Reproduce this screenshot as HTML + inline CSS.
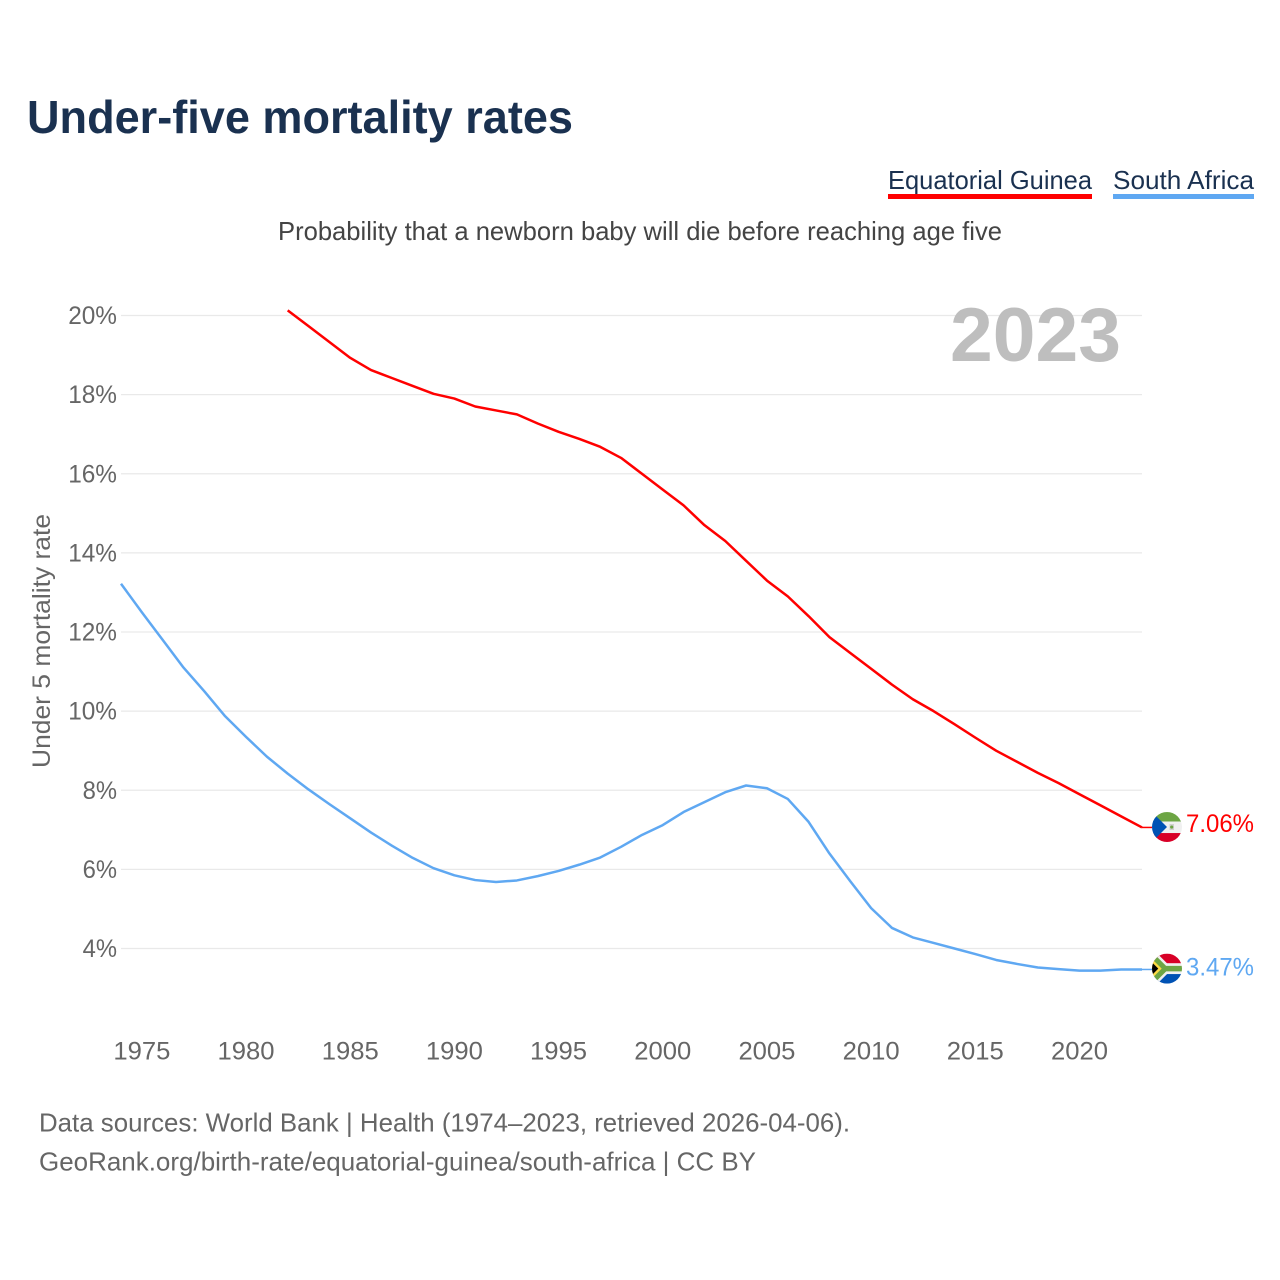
<!DOCTYPE html>
<html lang="en">
<head>
<meta charset="utf-8">
<title>Under-five mortality rates</title>
<style>
html,body{margin:0;padding:0;background:#fff;}
svg{display:block;}
text{font-family:"Liberation Sans",sans-serif;}
</style>
</head>
<body>
<svg id="chart" xmlns="http://www.w3.org/2000/svg" width="1280" height="1280" viewBox="0 0 1280 1280">
  <defs>
    <clipPath id="flag-clip"><circle cx="0" cy="0" r="15"/></clipPath>
  </defs>
  <rect x="0" y="0" width="1280" height="1280" fill="#fff"/>
  <text x="27" y="133" font-size="46" font-weight="700" fill="#1a3150" textLength="546" lengthAdjust="spacingAndGlyphs">Under-five mortality rates</text>

  <g>
    <g>
      <text x="888" y="189" font-size="26" fill="#1a3150" textLength="204" lengthAdjust="spacingAndGlyphs">Equatorial Guinea</text>
      <rect x="888" y="194" width="204" height="5" fill="#ff0000"/>
    </g>
    <g>
      <text x="1113" y="189" font-size="26" fill="#1a3150" textLength="141" lengthAdjust="spacingAndGlyphs">South Africa</text>
      <rect x="1113" y="194" width="141" height="5" fill="#5fa8f2"/>
    </g>
  </g>

  <text x="278" y="240" font-size="26" fill="#444" textLength="724" lengthAdjust="spacingAndGlyphs">Probability that a newborn baby will die before reaching age five</text>

  <g id="grid"></g>
  <g id="y-ticks"></g>
  <g id="x-ticks"></g>

  <text x="950" y="361" font-size="76" font-weight="700" fill="#bebebe" textLength="171" lengthAdjust="spacingAndGlyphs">2023</text>

  <text transform="translate(50,641) rotate(-90)" text-anchor="middle" font-size="25" fill="#666" textLength="254" lengthAdjust="spacingAndGlyphs">Under 5 mortality rate</text>

  <g id="series"></g>

  <g id="flag-eg">
    <g clip-path="url(#flag-clip)">
      <rect x="-15" y="-15" width="30" height="9.5" fill="#6da544"/>
      <rect x="-15" y="-5.5" width="30" height="11.5" fill="#f0f0f0"/>
      <rect x="-15" y="6" width="30" height="9" fill="#d80027"/>
      <polygon points="-15,-15 0,0 -15,15" fill="#0052b4"/>
      <rect x="2.5" y="-3" width="4.5" height="6" fill="#d0d0d0"/>
      <circle cx="4.7" cy="0" r="1.6" fill="#6da544"/>
    </g>
  </g>

  <g id="flag-za">
    <g clip-path="url(#flag-clip)">
      <rect x="-15" y="-15" width="30" height="30" fill="#f0f0f0"/>
      <rect x="-15" y="-15" width="30" height="9.6" fill="#d80027"/>
      <rect x="-15" y="5.4" width="30" height="9.6" fill="#0052b4"/>
      <path d="M-17,-15 L-2,0 L15,0 M-17,15 L-2,0" fill="none" stroke="#f0f0f0" stroke-width="10.5"/>
      <path d="M-17,-15 L-2,0 L15,0 M-17,15 L-2,0" fill="none" stroke="#6da544" stroke-width="5.5"/>
      <polygon points="-15,-9.7 -5.3,0 -15,9.7" fill="#ffda44"/>
      <polygon points="-15,-6.3 -8.7,0 -15,6.3" fill="#000"/>
    </g>
  </g>

  <g id="end-labels"></g>

  <text x="39" y="1131.5" font-size="26" fill="#666" textLength="811" lengthAdjust="spacingAndGlyphs">Data sources: World Bank | Health (1974–2023, retrieved 2026-04-06).</text>
  <text x="39" y="1170.5" font-size="26" fill="#666" textLength="717" lengthAdjust="spacingAndGlyphs">GeoRank.org/birth-rate/equatorial-guinea/south-africa | CC BY</text>
</svg>

<script>
var years = [1974,1975,1976,1977,1978,1979,1980,1981,1982,1983,1984,1985,1986,1987,1988,1989,1990,1991,1992,1993,1994,1995,1996,1997,1998,1999,2000,2001,2002,2003,2004,2005,2006,2007,2008,2009,2010,2011,2012,2013,2014,2015,2016,2017,2018,2019,2020,2021,2022,2023];
var southAfricaValues = [13.22,12.5,11.8,11.1,10.5,9.87,9.35,8.85,8.42,8.02,7.65,7.29,6.93,6.6,6.29,6.03,5.85,5.73,5.68,5.72,5.83,5.96,6.12,6.3,6.57,6.87,7.12,7.45,7.7,7.95,8.12,8.05,7.78,7.2,6.4,5.7,5.02,4.52,4.28,4.14,4.0,3.86,3.71,3.61,3.52,3.48,3.44,3.44,3.47,3.47];
var equatorialGuineaYears = [1982,1983,1984,1985,1986,1987,1988,1989,1990,1991,1992,1993,1994,1995,1996,1997,1998,1999,2000,2001,2002,2003,2004,2005,2006,2007,2008,2009,2010,2011,2012,2013,2014,2015,2016,2017,2018,2019,2020,2021,2022,2023];
var equatorialGuineaValues = [20.13,19.73,19.33,18.93,18.62,18.42,18.22,18.02,17.9,17.7,17.6,17.5,17.27,17.06,16.88,16.68,16.4,16.0,15.6,15.2,14.7,14.3,13.8,13.3,12.9,12.4,11.87,11.47,11.07,10.67,10.3,10.0,9.67,9.33,9.0,8.72,8.44,8.18,7.9,7.62,7.34,7.06];
var yTickValues = [4,6,8,10,12,14,16,18,20];
var xTickYears = [1975,1980,1985,1990,1995,2000,2005,2010,2015,2020];

function xScale(year) {
  return 121 + (year - 1974) * (1142 - 121) / (2023 - 1974);
}
function yScale(value) {
  return 948.5 - (value - 4) * (948.5 - 315.5) / (20 - 4);
}
var NS = 'http://www.w3.org/2000/svg';
function make(tag, attrs, parent) {
  var el = document.createElementNS(NS, tag);
  for (var k in attrs) { el.setAttribute(k, attrs[k]); }
  parent.appendChild(el);
  return el;
}
function linePath(xs, ys) {
  return xs.map(function (yr, i) {
    return (i ? 'L' : 'M') + xScale(yr).toFixed(2) + ',' + yScale(ys[i]).toFixed(2);
  }).join(' ');
}

var gridG = document.getElementById('grid');
var yTickG = document.getElementById('y-ticks');
var xTickG = document.getElementById('x-ticks');
var seriesG = document.getElementById('series');
var labelG = document.getElementById('end-labels');

yTickValues.forEach(function (v) {
  var line = make('line', {x1: 121, x2: 1142, y1: yScale(v), y2: yScale(v), stroke: '#e9e9e9', 'stroke-width': 1.2}, gridG);
  
  
  var label = v + '%';
  var t = make('text', {x: 117, y: yScale(v) + 8.5, 'text-anchor': 'end', 'font-size': 25, fill: '#666', textLength: String(v).length * 14.4 + 20, lengthAdjust: 'spacingAndGlyphs'}, yTickG);
  t.textContent = label;
  
  
});

xTickYears.forEach(function (yr) {
  var t = make('text', {x: xScale(yr), y: 1059.5, 'text-anchor': 'middle', 'font-size': 25, fill: '#666', textLength: 57, lengthAdjust: 'spacingAndGlyphs'}, xTickG);
  t.textContent = String(yr);
  
  
});

var egLast = equatorialGuineaValues[equatorialGuineaValues.length - 1];
var zaLast = southAfricaValues[southAfricaValues.length - 1];

var egPath = make('path', {d: linePath(equatorialGuineaYears, equatorialGuineaValues), fill: 'none', stroke: '#ff0000', 'stroke-width': 2.5, 'stroke-linejoin': 'round'}, seriesG);



var zaPath = make('path', {d: linePath(years, southAfricaValues), fill: 'none', stroke: '#5fa8f2', 'stroke-width': 2.5, 'stroke-linejoin': 'round'}, seriesG);



var egLead = make('line', {x1: xScale(2023), x2: 1155, y1: yScale(egLast), y2: yScale(egLast), stroke: '#ff0000', 'stroke-width': 1.5}, seriesG);



var zaLead = make('line', {x1: xScale(2023), x2: 1155, y1: yScale(zaLast), y2: yScale(zaLast), stroke: '#5fa8f2', 'stroke-width': 1.5}, seriesG);



document.getElementById('flag-eg').setAttribute('transform', 'translate(1167,' + (yScale(egLast) - 0.4) + ')');
document.getElementById('flag-za').setAttribute('transform', 'translate(1167,' + (yScale(zaLast) - 0.8) + ')');

var egLabel = make('text', {x: 1254, y: yScale(egLast) + 4.8, 'text-anchor': 'end', 'font-size': 25, fill: '#ff0000', textLength: 68, lengthAdjust: 'spacingAndGlyphs'}, labelG);
egLabel.textContent = egLast.toFixed(2) + '%';



var zaLabel = make('text', {x: 1254, y: yScale(zaLast) + 6, 'text-anchor': 'end', 'font-size': 25, fill: '#5fa8f2', textLength: 68, lengthAdjust: 'spacingAndGlyphs'}, labelG);
zaLabel.textContent = zaLast.toFixed(2) + '%';


</script>
</body>
</html>
